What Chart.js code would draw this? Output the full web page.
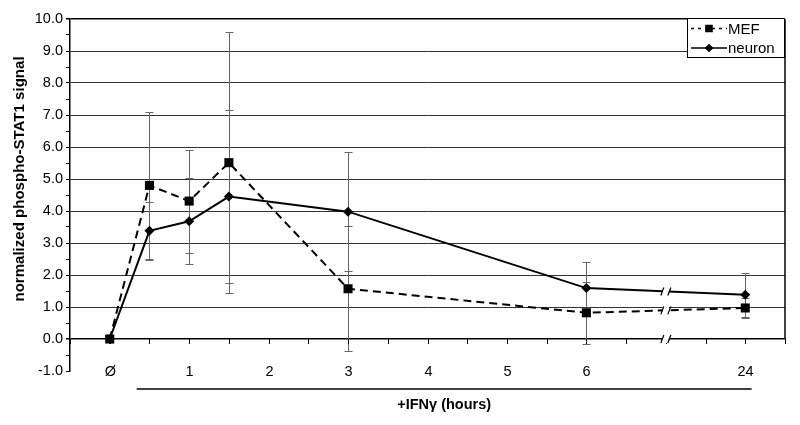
<!DOCTYPE html>
<html>
<head>
<meta charset="utf-8">
<script src="https://cdn.jsdelivr.net/npm/chart.js@4/dist/chart.umd.min.js"></script>
<style>
html, body { margin: 0; padding: 0; background: #fff; }
</style>
</head>
<body>
<canvas id="stat1_chart" width="800" height="425"></canvas>
<script>
// hours after IFN-gamma; 24 h sits past the axis break
var hours = [0, 0.5, 1, 1.5, 3, 6, 24];
var mefValues = [0, 4.8, 4.31, 5.51, 1.57, 0.82, 0.97];
var mefError = [0, 2.3, 1.61, 4.08, 1.95, 0.97, 0.31];
var neuronValues = [0, 3.38, 3.68, 4.45, 3.98, 1.59, 1.38];
var neuronError = [0, 0.9, 1.34, 2.7, 1.87, 0.82, 0.69];
var xTickLabels = ['Ø', '1', '2', '3', '4', '5', '6', '', '24'];

var FONT = "'Liberation Sans', Arial, sans-serif";
var BREAK_AT = 7;

// broken axis: everything after 6 h is drawn at slot 8
function axisPos(h) { return h > 6 ? 8 : h; }
function toPoints(vals) {
    return hours.map(function (h, i) { return {x: axisPos(h), y: vals[i]}; });
}
function isWhole(v) { return Math.abs(v - Math.round(v)) < 1e-6; }

var decorations = {
    id: 'decorations',
    beforeDatasetsDraw: function (chart) {
        var c = chart.ctx, xs = chart.scales.x, ys = chart.scales.y;
        c.save();
        c.strokeStyle = '#666';
        c.lineWidth = 1;
        chart.data.datasets.forEach(function (ds) {
            ds.data.forEach(function (p, i) {
                var e = ds.err[i];
                if (!e) return;
                var x = Math.round(xs.getPixelForValue(p.x)) + 0.5;
                var yt = Math.round(ys.getPixelForValue(p.y + e)) + 0.5;
                var yb = Math.round(ys.getPixelForValue(p.y - e)) + 0.5;
                c.beginPath();
                c.moveTo(x, yt); c.lineTo(x, yb);
                c.moveTo(x - 4, yt); c.lineTo(x + 4, yt);
                c.moveTo(x - 4, yb); c.lineTo(x + 4, yb);
                c.stroke();
            });
        });
        c.restore();
    },
    afterDatasetsDraw: function (chart) {
        var c = chart.ctx, xs = chart.scales.x, ys = chart.scales.y, area = chart.chartArea;
        var y0 = ys.getPixelForValue(0);
        c.save();

        // x axis ticks hanging under the zero line, labels level with -1.0
        c.strokeStyle = '#000';
        c.lineWidth = 1;
        c.fillStyle = '#000';
        c.font = '14.5px ' + FONT;
        c.textAlign = 'center';
        c.textBaseline = 'middle';
        var labelY = ys.getPixelForValue(-1) + 1;
        c.beginPath();
        xs.ticks.forEach(function (t) {
            var x = Math.round(xs.getPixelForValue(t.value)) + 0.5;
            c.moveTo(x, y0); c.lineTo(x, y0 + 5);
            if (isWhole(t.value) && t.value >= 0) {
                c.fillText(xTickLabels[Math.round(t.value)], x, labelY);
            }
        });
        c.stroke();

        // right border of the plot box
        c.lineWidth = 1.5;
        c.beginPath();
        c.moveTo(area.right, ys.getPixelForValue(10));
        c.lineTo(area.right, y0);
        c.stroke();

        // axis break marks
        var bx = xs.getPixelForValue(BREAK_AT);
        var breakYs = [y0];
        chart.data.datasets.forEach(function (ds, di) {
            var pts = chart.getDatasetMeta(di).data;
            var a = pts[pts.length - 2], b = pts[pts.length - 1];
            breakYs.push(a.y + (b.y - a.y) * (bx - a.x) / (b.x - a.x));
        });
        breakYs.forEach(function (by) {
            c.fillStyle = '#fff';
            c.fillRect(bx - 3, by - 4, 6, 8);
            c.strokeStyle = '#000';
            c.lineWidth = 1.2;
            c.beginPath();
            c.moveTo(bx - 5, by + 4); c.lineTo(bx - 2, by - 4);
            c.moveTo(bx + 2, by + 4); c.lineTo(bx + 5, by - 4);
            c.stroke();
        });

        // legend box
        var lw = 98, lh = 39, lx = area.right - lw, ly = area.top - 1;
        c.fillStyle = '#fff';
        c.fillRect(lx, ly, lw, lh);
        c.strokeStyle = '#000';
        c.lineWidth = 1;
        c.strokeRect(lx + 0.5, ly + 0.5, lw - 1, lh);
        chart.data.datasets.forEach(function (ds, di) {
            var ry = ly + 10.5 + di * 19.5;
            c.strokeStyle = '#000';
            c.lineWidth = 1.5;
            c.setLineDash(ds.borderDash ? [3, 4] : []);
            c.beginPath();
            c.moveTo(lx + 4, ry); c.lineTo(lx + 40, ry);
            c.stroke();
            c.setLineDash([]);
            Chart.helpers.drawPoint(c, {pointStyle: ds.pointStyle, radius: ds.pointStyle === 'rect' ? 4.3 : 3.3, borderWidth: 1}, lx + 22, ry);
            c.fillStyle = '#000';
            c.fill();
            c.font = '15px ' + FONT;
            c.textAlign = 'left';
            c.textBaseline = 'middle';
            c.fillText(ds.label, lx + 41, ry + 1);
        });

        // bracket under the time labels
        var bL = xs.getPixelForValue(0.34), bR = xs.getPixelForValue(8.08);
        var bY = area.bottom + 18;
        c.strokeStyle = '#000';
        c.lineWidth = 1.5;
        c.beginPath();
        c.moveTo(bL, bY); c.lineTo(bR, bY);
        c.stroke();

        // axis titles
        c.fillStyle = '#000';
        c.font = 'bold 14.5px ' + FONT;
        c.textAlign = 'center';
        c.textBaseline = 'middle';
        c.fillText('+IFNγ (hours)', (bL + bR) / 2, area.bottom + 34);

        c.font = 'bold 14px ' + FONT;
        var yTitle = 'normalized phospho-STAT1 signal';
        var span = ys.getPixelForValue(0) - ys.getPixelForValue(10);
        c.translate(20, (ys.getPixelForValue(0) + ys.getPixelForValue(10)) / 2);
        c.rotate(-Math.PI / 2);
        c.scale(span * 0.766 / c.measureText(yTitle).width, 1);
        c.fillText(yTitle, 0, 0);
        c.restore();
    }
};

var ctx = document.getElementById('stat1_chart').getContext('2d');
var myChart = new Chart(ctx, {
    type: 'line',
    data: {
        datasets: [{
            label: 'MEF',
            data: toPoints(mefValues),
            err: mefError,
            borderColor: '#000',
            backgroundColor: '#000',
            borderWidth: 2,
            borderDash: [8, 5],
            pointStyle: 'rect',
            pointRadius: 6.4,
            pointHoverRadius: 6.4,
            pointBorderWidth: 0
        }, {
            label: 'neuron',
            data: toPoints(neuronValues),
            err: neuronError,
            borderColor: '#000',
            backgroundColor: '#000',
            borderWidth: 2,
            pointStyle: 'rectRot',
            pointRadius: 5,
            pointHoverRadius: 5,
            pointBorderWidth: 0
        }]
    },
    options: {
        responsive: false,
        animation: false,
        events: [],
        layout: { padding: { top: 19, right: 15, left: 0, bottom: 0 } },
        plugins: {
            legend: { display: false },
            tooltip: { enabled: false }
        },
        scales: {
            x: {
                type: 'linear',
                min: -0.5,
                max: 8.5,
                afterFit: function (scale) { scale.height = 54; },
                grid: { display: false },
                border: { display: false },
                ticks: {
                    stepSize: 0.5,
                    autoSkip: false,
                    display: false
                }
            },
            y: {
                min: -1,
                max: 10,
                afterFit: function (scale) { scale.width = 70; },
                border: { display: true, color: '#000', width: 1.5 },
                grid: {
                    color: function (c) {
                        var v = c.tick.value;
                        if (!isWhole(v) || v < 0) return 'rgba(0,0,0,0)';
                        return (v === 0 || v === 10) ? '#000' : '#333';
                    },
                    lineWidth: function (c) {
                        var v = c.tick.value;
                        return (v === 0 || v === 10) ? 1.5 : 1;
                    },
                    tickColor: '#000',
                    tickLength: 4
                },
                ticks: {
                    stepSize: 0.5,
                    autoSkip: false,
                    padding: 3,
                    color: '#000',
                    font: { family: FONT, size: 14.5 },
                    callback: function (v) { return isWhole(v) ? v.toFixed(1) : ''; }
                }
            }
        }
    },
    plugins: [decorations]
});
</script>
</body>
</html>
